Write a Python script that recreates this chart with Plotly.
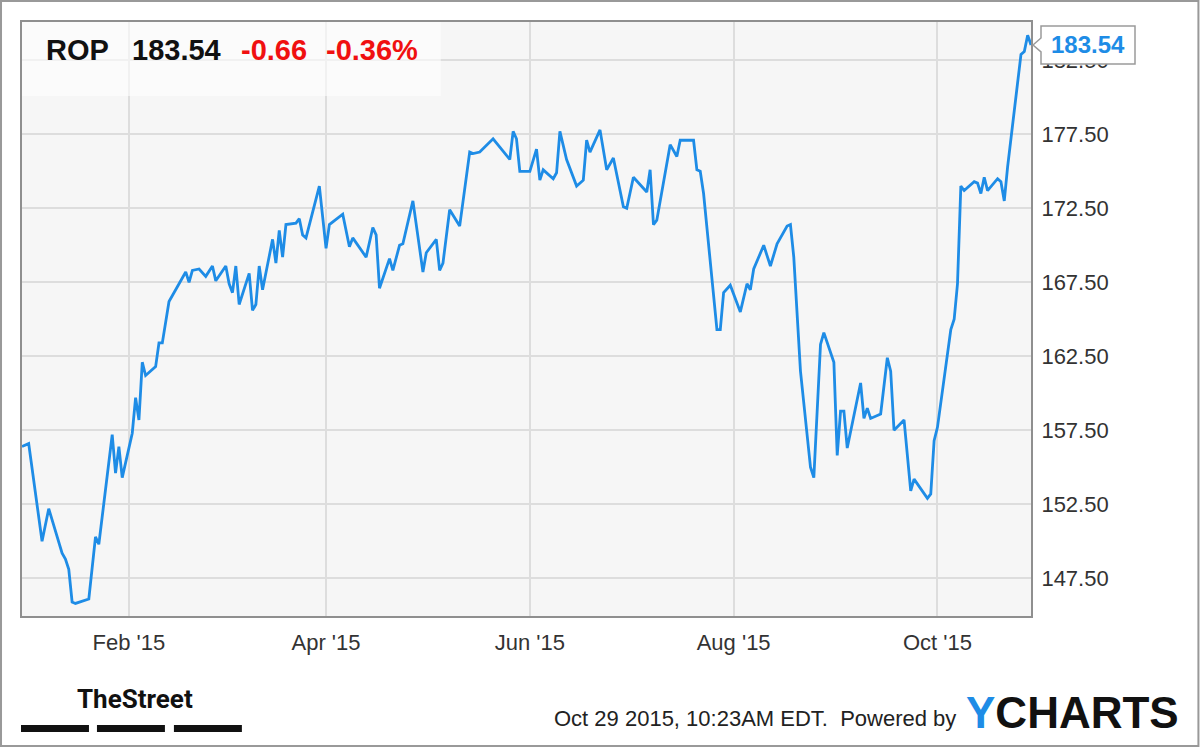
import plotly.graph_objects as go

# ROP daily closes
dates = [
    "2014-12-31", "2015-01-02", "2015-01-06", "2015-01-08", "2015-01-12", "2015-01-13", "2015-01-14", "2015-01-15",
    "2015-01-16", "2015-01-20", "2015-01-22", "2015-01-23", "2015-01-27", "2015-01-28", "2015-01-29", "2015-01-30",
    "2015-02-02", "2015-02-03", "2015-02-04", "2015-02-05", "2015-02-06", "2015-02-09", "2015-02-10", "2015-02-11",
    "2015-02-13", "2015-02-14", "2015-02-16", "2015-02-18", "2015-02-19", "2015-02-20", "2015-02-22", "2015-02-24",
    "2015-02-26", "2015-02-27",
    "2015-03-02", "2015-03-03", "2015-03-04", "2015-03-05", "2015-03-06", "2015-03-09", "2015-03-10", "2015-03-11",
    "2015-03-12", "2015-03-13", "2015-03-16", "2015-03-17", "2015-03-18", "2015-03-19", "2015-03-20", "2015-03-23",
    "2015-03-24", "2015-03-25", "2015-03-26", "2015-03-30",
    "2015-04-01", "2015-04-02", "2015-04-06", "2015-04-08", "2015-04-09", "2015-04-13", "2015-04-15", "2015-04-16",
    "2015-04-17", "2015-04-20", "2015-04-21", "2015-04-23", "2015-04-24", "2015-04-27", "2015-04-30",
    "2015-05-01", "2015-05-04", "2015-05-05", "2015-05-06", "2015-05-08", "2015-05-11", "2015-05-14", "2015-05-15",
    "2015-05-17", "2015-05-21", "2015-05-26", "2015-05-27", "2015-05-28", "2015-05-29",
    "2015-06-01", "2015-06-03", "2015-06-04", "2015-06-05", "2015-06-08", "2015-06-09", "2015-06-10", "2015-06-12",
    "2015-06-15", "2015-06-17", "2015-06-18", "2015-06-19", "2015-06-22", "2015-06-24", "2015-06-26", "2015-06-29",
    "2015-06-30",
    "2015-07-02", "2015-07-06", "2015-07-07", "2015-07-08", "2015-07-09", "2015-07-13", "2015-07-15", "2015-07-16",
    "2015-07-20", "2015-07-21", "2015-07-22", "2015-07-23", "2015-07-27", "2015-07-28", "2015-07-29", "2015-07-31",
    "2015-08-03", "2015-08-05", "2015-08-06", "2015-08-07", "2015-08-10", "2015-08-12", "2015-08-14", "2015-08-17",
    "2015-08-18", "2015-08-19", "2015-08-21", "2015-08-24", "2015-08-25", "2015-08-27", "2015-08-28", "2015-08-31",
    "2015-09-01", "2015-09-02", "2015-09-03", "2015-09-04", "2015-09-08", "2015-09-09", "2015-09-10", "2015-09-11",
    "2015-09-14", "2015-09-16", "2015-09-17", "2015-09-18", "2015-09-21", "2015-09-23", "2015-09-24", "2015-09-28",
    "2015-09-29", "2015-09-30",
    "2015-10-01", "2015-10-05", "2015-10-06", "2015-10-07", "2015-10-08", "2015-10-09", "2015-10-12", "2015-10-13",
    "2015-10-14", "2015-10-15", "2015-10-16", "2015-10-19", "2015-10-20", "2015-10-21", "2015-10-22", "2015-10-23",
    "2015-10-26", "2015-10-27", "2015-10-28", "2015-10-29",
]
prices = [
    156.4, 156.6, 150.0, 152.2, 149.2, 148.8, 148.1, 145.9, 145.8, 146.1, 150.3, 149.8, 157.2, 154.6, 156.4, 154.3,
    157.3, 159.7, 158.2, 162.1, 161.2, 161.8, 163.4, 163.4, 166.2, 166.6, 167.3, 168.2, 167.5, 168.3, 168.4, 167.9,
    168.6, 167.6,
    168.6, 167.4, 166.8, 168.6, 166.0, 168.1, 165.6, 166.0, 168.6, 167.0, 170.4, 168.8, 171.0, 169.2, 171.4, 171.5,
    171.8, 170.7, 170.5, 174.0,
    169.8, 171.4, 172.1, 169.9, 170.5, 169.2, 171.2, 170.7, 167.1, 169.1, 168.3, 170.0, 170.1, 173.0, 168.2,
    169.5, 170.4, 168.3, 168.8, 172.4, 171.3, 176.3, 176.2, 176.3, 177.2, 175.8, 177.7, 177.2, 175.0,
    175.0, 176.5, 174.4, 175.1, 174.5, 174.9, 177.7, 175.8, 174.0, 174.4, 177.1, 176.3, 177.8, 175.1, 175.9, 172.6,
    172.5,
    174.6, 173.6, 175.1, 171.4, 171.7, 176.8, 176.0, 177.1, 177.1, 175.1, 175.0, 173.5, 164.3, 164.3, 166.8, 167.3,
    165.5, 167.4, 167.0, 168.4, 170.0, 168.6, 170.1, 171.3, 171.4, 169.2, 161.5, 155.0, 154.3, 163.3, 164.1, 162.1,
    155.8, 158.8, 158.8, 156.3, 160.7, 158.3, 159.0, 158.3, 158.6, 162.4, 161.5, 157.5, 158.2, 153.4, 154.2, 152.9,
    153.2, 156.8,
    157.7, 164.3, 165.0, 167.4, 174.0, 173.7, 174.3, 174.2, 173.5, 174.6, 173.7, 174.5, 174.3, 173.0, 175.3, 177.3,
    182.9, 183.1, 184.2, 183.54,
]

ticker = "ROP"
last_price = "183.54"
change = "-0.66"
change_pct = "-0.36%"

y_ticks = [147.5, 152.5, 157.5, 162.5, 167.5, 172.5, 177.5, 182.5]
x_ticks = ["2015-02-01", "2015-04-01", "2015-06-01", "2015-08-01", "2015-10-01"]
x_labels = ["Feb '15", "Apr '15", "Jun '15", "Aug '15", "Oct '15"]

footer = "Oct 29 2015, 10:23AM EDT.  Powered by"

FONT = "Liberation Sans, Arial, sans-serif"
BLUE = "#1e8ce6"

# plot area in page pixels, used to place the decorations
L, R, T, B = 22, 1031.5, 22, 616
W, H = R - L, B - T


def px(x):
    return (x - L) / W


def py(y):
    return (B - y) / H


fig = go.Figure()
fig.add_trace(go.Scatter(
    x=dates, y=prices, mode='lines',
    line=dict(color=BLUE, width=2.8),
    hoverinfo='skip', showlegend=False,
))

shapes = [
    # outer frame of the image
    dict(type='rect', xref='paper', yref='paper', x0=px(1), x1=px(1199), y0=py(1), y1=py(746),
         line=dict(color='#999999', width=2), fillcolor='rgba(0,0,0,0)'),
    # header box
    dict(type='rect', xref='paper', yref='paper', x0=0, x1=px(441), y0=py(96), y1=1,
         line=dict(width=0), fillcolor='rgba(255,255,255,0.6)'),
    # last price flag
    dict(type='path', xref='paper', x0=0, xanchor=1, xsizemode='pixel',
         yref='y', yanchor=prices[-1], ysizemode='pixel',
         path='M 2 0 L 10 7 L 10 19 L 104 19 L 104 -19 L 10 -19 L 10 -7 Z',
         line=dict(color='#9a9a9a', width=1.5), fillcolor='white'),
]

# TheStreet logo bars
for x0, x1 in [(21, 89), (97, 165), (174, 242)]:
    shapes.append(dict(type='rect', xref='paper', yref='paper', x0=px(x0), x1=px(x1), y0=py(732), y1=py(725),
                       line=dict(width=0), fillcolor='#111111'))

annotations = [
    dict(text="<b>%s</b>" % ticker, x=px(44), y=py(50), font=dict(size=29, color='#111111')),
    dict(text="<b>%s</b>" % last_price, x=px(130), y=py(50), font=dict(size=29, color='#111111')),
    dict(text="<b>%s</b>" % change, x=px(239), y=py(50), font=dict(size=29, color='#f01010')),
    dict(text="<b>%s</b>" % change_pct, x=px(324), y=py(50), font=dict(size=29, color='#f01010')),
    dict(text="<b>TheStreet</b>", x=px(75), y=py(699),
         font=dict(size=26, color='#111111', family="Roboto, sans-serif")),
    dict(text=footer, x=px(958), y=py(718), xanchor='right', font=dict(size=22, color='#222222')),
    dict(text="<b><span style='color:%s'>Y</span>CHARTS</b>" % BLUE, x=px(964), y=py(712),
         font=dict(size=44, color='#111111')),
]
for a in annotations:
    a.setdefault('xanchor', 'left')
    a.update(xref='paper', yref='paper', yanchor='middle', showarrow=False)

# value in the flag
annotations.append(dict(text="<b>%s</b>" % last_price, xref='paper', x=1, xshift=57, xanchor='center',
                        yref='y', y=prices[-1], yanchor='middle', showarrow=False,
                        font=dict(size=24, color=BLUE)))

fig.update_layout(
    width=1200, height=747,
    margin=dict(l=L, r=1200 - R, t=T, b=747 - B, pad=0),
    paper_bgcolor='white', plot_bgcolor='#f6f6f6',
    font=dict(family=FONT, color='#333333'),
    shapes=shapes, annotations=annotations,
    xaxis=dict(
        type='date', range=[dates[0], dates[-1]],
        tickvals=x_ticks, ticktext=x_labels,
        showgrid=True, gridcolor='#dddddd', gridwidth=1.5,
        showline=True, mirror=True, linecolor='#8f8f8f', linewidth=2,
        ticks='', tickfont=dict(size=22, color='#333333'), ticklabelstandoff=6,
        zeroline=False, fixedrange=True,
    ),
    yaxis=dict(
        side='right', range=[144.95, 185.09],
        tickvals=y_ticks, tickformat='.2f',
        showgrid=True, gridcolor='#dddddd', gridwidth=1.5,
        showline=True, mirror=True, linecolor='#8f8f8f', linewidth=2,
        ticks='', tickfont=dict(size=22, color='#333333'), ticklabelstandoff=4,
        zeroline=False, fixedrange=True,
    ),
)

fig.write_html("out.html", config={'displayModeBar': False},
               post_script="document.body.style.margin = '0';")
